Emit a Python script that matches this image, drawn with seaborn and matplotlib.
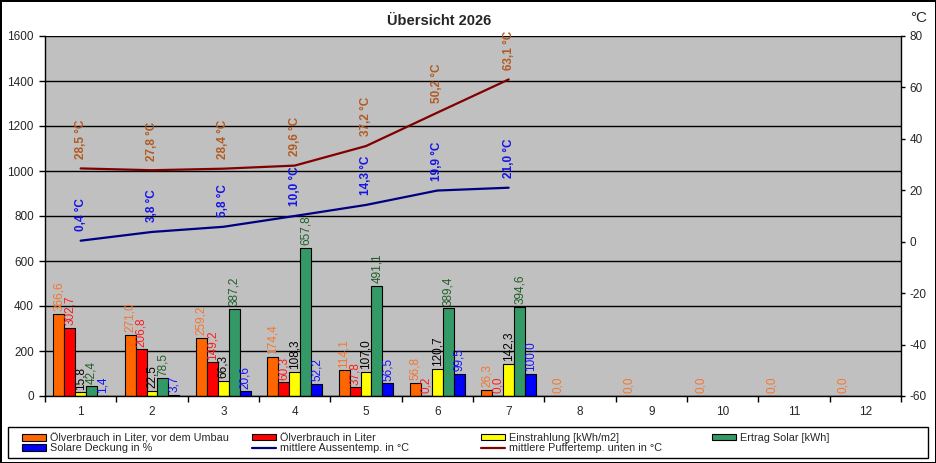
import numpy as np
import pandas as pd
import seaborn as sns
import matplotlib.pyplot as plt
from matplotlib.patches import Patch, Rectangle
from matplotlib.lines import Line2D

sns.set_theme(style="white")
plt.rcParams['font.family'] = ['Liberation Sans', 'DejaVu Sans']
plt.rcParams['axes.unicode_minus'] = False

# --- data ---
months = list(range(1, 13))
oel_vor_umbau = [366.6, 271.0, 259.2, 174.4, 114.1, 56.8, 26.3, 0.0, 0.0, 0.0, 0.0, 0.0]
oel_verbrauch = [302.7, 206.8, 149.2, 60.3, 37.8, 0.2, 0.0]
einstrahlung = [15.8, 22.5, 66.3, 108.3, 107.0, 120.7, 142.3]
ertrag_solar = [42.4, 78.5, 387.2, 657.8, 491.1, 389.4, 394.6]
solare_deckung = [1.4, 3.7, 20.6, 52.2, 56.5, 99.5, 100.0]
aussentemp = [0.4, 3.8, 5.8, 10.0, 14.3, 19.9, 21.0]
puffertemp = [28.5, 27.8, 28.4, 29.6, 37.2, 50.2, 63.1]

bar_series = [
    "Ölverbrauch in Liter, vor dem Umbau",
    "Ölverbrauch in Liter",
    "Einstrahlung [kWh/m2]",
    "Ertrag Solar [kWh]",
    "Solare Deckung in %",
]
bar_values = [oel_vor_umbau, oel_verbrauch, einstrahlung, ertrag_solar, solare_deckung]
bar_colors = ["#ff6600", "#ff0000", "#ffff00", "#339966", "#0000ff"]
label_colors = ["#f5762f", "#ff1a1a", "#000000", "#1f5f2a", "#1010ff"]

rows = []
for name, vals in zip(bar_series, bar_values):
    for m, v in zip(months, vals):
        rows.append({"Monat": m, "Reihe": name, "Wert": v})
df = pd.DataFrame(rows)


def fmt(v):
    return f"{v:.1f}".replace(".", ",")


fig = plt.figure(figsize=(9.36, 4.63), dpi=100)
fig.patch.set_edgecolor("black")
fig.patch.set_linewidth(2)
ax = fig.add_axes([45 / 936, 1 - 396 / 463, 856 / 936, 360 / 463])
ax.set_facecolor("#c0c0c0")

sns.barplot(data=df, x="Monat", y="Wert", hue="Reihe", order=months,
            hue_order=bar_series, palette=bar_colors, saturation=1,
            width=0.77, edgecolor="black", linewidth=0.8, errorbar=None,
            legend=False, ax=ax)

# value labels above bars
for cont, col in zip(ax.containers, label_colors):
    for bar in cont:
        h = bar.get_height()
        if np.isnan(h):
            continue
        ax.annotate(fmt(h), (bar.get_x() + bar.get_width() / 2, h),
                    xytext=(0, 2), textcoords="offset points",
                    rotation=90, ha="center", va="bottom",
                    fontsize=8.5, color=col)

ax.set_ylim(0, 1600)
ax.set_yticks(range(0, 1601, 200))
ax.set_xlim(-0.5, 11.5)
ax.set_xticks(range(12))
ax.set_xticklabels([str(m) for m in months])
ax.set_xticks(np.arange(-0.5, 12, 1), minor=True)
ax.tick_params(axis="x", which="major", length=0, pad=7, labelsize=8.5)
ax.tick_params(axis="x", which="minor", length=4, width=1, color="black",
               direction="out", bottom=True)
ax.tick_params(axis="y", length=4, width=1, color="black", direction="out",
               left=True, labelsize=8.5, pad=4)
ax.set_xlabel("")
ax.set_ylabel("")
ax.yaxis.grid(True, color="black", linewidth=1)
ax.xaxis.grid(False)
ax.set_axisbelow(True)
for side in ["top", "right"]:
    ax.spines[side].set_visible(False)
for side in ["left", "bottom"]:
    ax.spines[side].set_color("black")
    ax.spines[side].set_linewidth(1)

# temperature lines on right axis
ax2 = ax.twinx()
x_line = np.arange(len(aussentemp))
sns.lineplot(x=x_line, y=aussentemp, ax=ax2, color="#000080", linewidth=1.6)
sns.lineplot(x=x_line, y=puffertemp, ax=ax2, color="#800000", linewidth=1.6)
for xi, v in zip(x_line, aussentemp):
    ax2.annotate(f"{fmt(v)} °C", (xi, v), xytext=(0, 7), textcoords="offset points",
                 rotation=90, ha="center", va="bottom", fontsize=8.5,
                 fontweight="bold", color="#1414e6")
for xi, v in zip(x_line, puffertemp):
    ax2.annotate(f"{fmt(v)} °C", (xi, v), xytext=(0, 7), textcoords="offset points",
                 rotation=90, ha="center", va="bottom", fontsize=8.5,
                 fontweight="bold", color="#b35a22")
ax2.set_ylim(-60, 80)
ax2.set_yticks(range(-60, 81, 20))
ax2.tick_params(axis="y", length=3, width=1, color="black", direction="out",
                right=True, labelsize=8.5, pad=3)
ax2.grid(False)
ax2.set_xlim(-0.5, 11.5)
for side in ["top", "left", "bottom"]:
    ax2.spines[side].set_visible(False)
ax2.spines["right"].set_color("black")
ax2.spines["right"].set_linewidth(1)

fig.text(0.469, 0.955, "Übersicht 2026", ha="center", va="center",
         fontsize=10.5, fontweight="bold")
fig.text(0.981, 0.961, "°C", ha="center", va="center", fontsize=11)

# legend: box plus four equally spaced columns, row-major like the original
handles = [Patch(facecolor=c, edgecolor="black", linewidth=0.8) for c in bar_colors]
handles += [Line2D([], [], color="#000080", linewidth=1.6),
            Line2D([], [], color="#800000", linewidth=1.6)]
labels = bar_series + ["mittlere Aussentemp. in °C", "mittlere Puffertemp. unten in °C"]
columns = [[0, 4], [1, 5], [2, 6], [3]]
col_x = [22, 252, 481, 712]
fig.add_artist(Rectangle((8 / 936, 5 / 463), 920 / 936, 31 / 463,
                         transform=fig.transFigure, fill=False,
                         edgecolor="black", linewidth=1))
for idx, cx in zip(columns, col_x):
    fig.legend([handles[i] for i in idx], [labels[i] for i in idx],
               loc="upper left", bbox_to_anchor=(cx / 936, 1 - 433 / 463),
               fontsize=7.8, frameon=False, handlelength=2.25, handleheight=0.5,
               handletextpad=0.3, labelspacing=0.0, borderpad=0,
               borderaxespad=0)

fig.savefig("out.png", dpi=100)
